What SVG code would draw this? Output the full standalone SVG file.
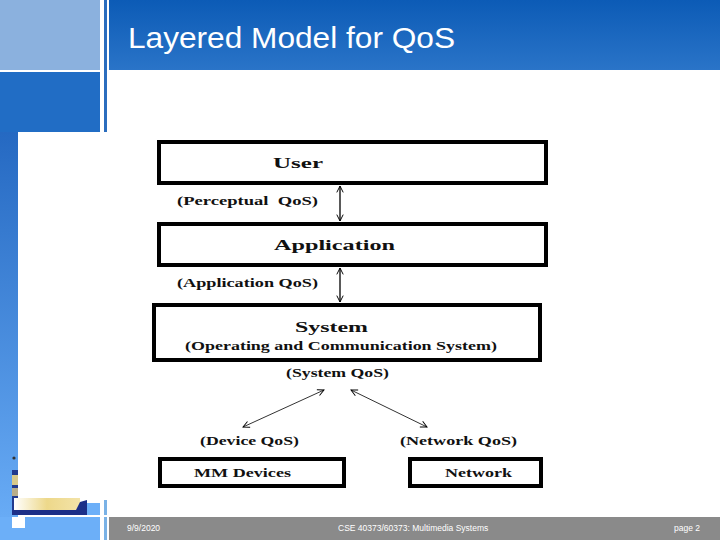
<svg xmlns="http://www.w3.org/2000/svg" width="720" height="540" viewBox="0 0 720 540">
<defs>
<linearGradient id="hdr" x1="0" y1="0" x2="0" y2="1"><stop offset="0" stop-color="#0C5BB6"/><stop offset="1" stop-color="#2A74C8"/></linearGradient>
<linearGradient id="strip" x1="0" y1="0" x2="0" y2="1"><stop offset="0" stop-color="#2569C2"/><stop offset="1" stop-color="#6CAFF8"/></linearGradient>
<linearGradient id="logo" x1="0" y1="0" x2="1" y2="0"><stop offset="0" stop-color="#FFFFFF"/><stop offset="0.5" stop-color="#EDD88A"/><stop offset="1" stop-color="#F3E3A8"/></linearGradient>
<marker id="ah" viewBox="0 0 10 10" refX="9" refY="5" markerWidth="8" markerHeight="8" orient="auto-start-reverse" markerUnits="userSpaceOnUse"><path d="M1,1 L9,5 L1,9" fill="none" stroke="#000" stroke-width="1.2"/></marker>
</defs>
<style>
.box{fill:#fff;stroke:#000;stroke-width:4}
.t{font-family:"Liberation Serif","Times New Roman",serif;font-weight:bold;fill:#111}
.lbl{font-size:12px}
.nm{font-size:14px}
.con{stroke:#000;stroke-width:1.3;fill:none;marker-start:url(#ah);marker-end:url(#ah)}
.diag{stroke:#333;stroke-width:1;fill:none;marker-start:url(#ah);marker-end:url(#ah)}
.ft{font-family:"Liberation Sans",Arial,sans-serif;font-size:8.5px;fill:#fff}
</style>
<rect width="720" height="540" fill="#fff"/>
<!-- template background -->
<rect x="0" y="0" width="100" height="70" fill="#8BB1DE"/>
<rect x="109" y="0" width="611" height="70" fill="url(#hdr)"/>
<rect x="104" y="0" width="3" height="132" fill="#2B6DBE"/>
<rect x="0" y="72" width="100" height="60" fill="#216DC5"/>
<rect x="0" y="132" width="18" height="408" fill="url(#strip)"/>
<rect x="0" y="517" width="100" height="23" fill="#6CAFF8"/>
<rect x="87" y="503" width="13" height="12" fill="#6CAFF8"/>
<rect x="104" y="500" width="3" height="15" fill="#7AB2E6"/>
<rect x="104" y="517" width="3" height="23" fill="#7AB2E6"/>
<rect x="109" y="517" width="611" height="23" fill="#8A8A8A"/>
<rect x="12" y="517" width="13" height="11" fill="#fff"/>
<!-- logo -->
<rect x="12" y="470" width="6" height="45" fill="#223A8C"/>
<rect x="12" y="475" width="6" height="10" fill="#D8C98A"/>
<rect x="12" y="488" width="6" height="8" fill="#B8AE8A"/>
<rect x="12" y="510" width="75" height="5" fill="#1C2F88"/>
<rect x="14" y="498" width="66" height="12" fill="url(#logo)"/>
<path d="M76,510 L80,502 L87,500 L87,510 Z" fill="#1C2F88"/>
<circle cx="14" cy="458" r="1.6" fill="#333"/>
<text x="128" y="48" font-family="'Liberation Sans',Arial,sans-serif" font-size="30" fill="#fff" textLength="327" lengthAdjust="spacingAndGlyphs">Layered Model for QoS</text>
<text class="ft" x="127" y="531">9/9/2020</text>
<text class="ft" x="338" y="531">CSE 40373/60373: Multimedia Systems</text>
<text class="ft" x="674" y="531">page 2</text>
<!-- connectors -->
<g id="connectors">
<line class="con" x1="340" y1="186" x2="340" y2="221"/>
<line class="con" x1="340" y1="268" x2="340" y2="302"/>
<line class="diag" x1="324" y1="390" x2="243" y2="427"/>
<line class="diag" x1="351" y1="390" x2="427" y2="427"/>
</g>
<g id="user">
<rect class="box" x="159" y="142" width="387" height="41"/>
<text class="t nm" x="273" y="168" textLength="50" lengthAdjust="spacingAndGlyphs">User</text>
</g>
<text class="t lbl" x="177" y="205" textLength="141" lengthAdjust="spacingAndGlyphs" xml:space="preserve">(Perceptual  QoS)</text>
<g id="application">
<rect class="box" x="159" y="224" width="387" height="41"/>
<text class="t nm" x="274" y="250" textLength="121" lengthAdjust="spacingAndGlyphs">Application</text>
</g>
<text class="t lbl" x="177" y="287" textLength="141" lengthAdjust="spacingAndGlyphs">(Application QoS)</text>
<g id="system">
<rect class="box" x="154" y="305" width="386" height="55" stroke-width="4.5"/>
<text class="t nm" x="295" y="332" textLength="73" lengthAdjust="spacingAndGlyphs">System</text>
<text class="t lbl" x="185" y="350" textLength="312" lengthAdjust="spacingAndGlyphs">(Operating and Communication System)</text>
</g>
<text class="t lbl" x="286" y="377" textLength="103" lengthAdjust="spacingAndGlyphs">(System QoS)</text>
<text class="t lbl" x="200" y="445" textLength="99" lengthAdjust="spacingAndGlyphs">(Device QoS)</text>
<text class="t lbl" x="400" y="445" textLength="117" lengthAdjust="spacingAndGlyphs">(Network QoS)</text>
<g id="mm-devices">
<rect class="box" x="160" y="459" width="184" height="27"/>
<text class="t lbl" x="194" y="477" textLength="97" lengthAdjust="spacingAndGlyphs">MM Devices</text>
</g>
<g id="network">
<rect class="box" x="410" y="459" width="131" height="27"/>
<text class="t lbl" x="445" y="477" textLength="67" lengthAdjust="spacingAndGlyphs">Network</text>
</g>
</svg>
